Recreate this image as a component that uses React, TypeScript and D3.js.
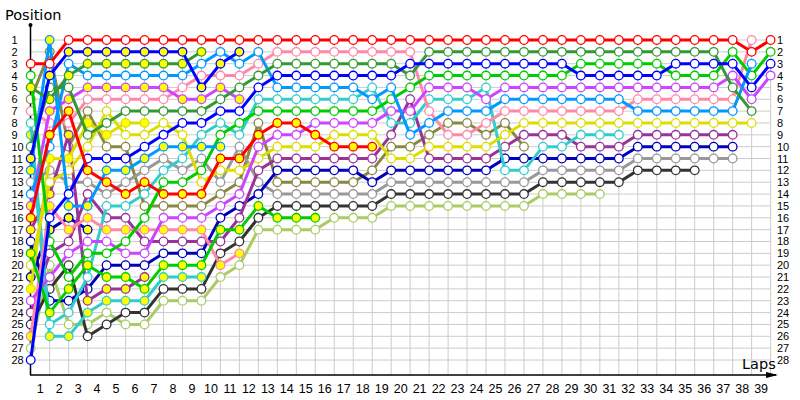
import React from "react";
import * as d3 from "d3";

const N = null;
const lapNumbers = d3.range(1, 40);
const positionLabels = d3.range(1, 29);

// positions per lap (lap 0 .. lap 39)
const redW = [3,3,1,1,1,1,1,1,1,1, 1,1,1,1,1,1,1,1,1,1, 1,1,1,1,1,1,1,1,1,1, 1,1,1,1,1,1,1,1,2,1];
const redY = [16,9,7,12,13,14,13,14,14,14, 11,11,9,8,8,9,10,10,10,N, N,N,N,N,N,N,N,N,N,N, N,N,N,N,N,N,N,N,N,N];
const blueY = [11,4,2,2,2,2,2,2,2,5, 3,2,N,N,N,N,N,N,N,N, N,N,N,N,N,N,N,N,N,N, N,N,N,N,N,N,N,N,N,N];
const dkGreenY = [5,6,4,3,3,3,3,3,3,2, N,N,N,N,N,N,N,N,N,N, N,N,N,N,N,N,N,N,N,N, N,N,N,N,N,N,N,N,N,N];
const skyW = [14,10,3,4,4,4,4,4,4,3, 2,3,2,5,5,5,5,5,6,5, 9,8,7,7,7,6,6,6,6,6, 6,6,7,7,7,7,7,7,3,N];
const skyY = [12,1,15,15,12,12,11,10,10,10, 10,N,N,N,N,N,N,N,N,N, N,N,N,N,N,N,N,N,N,N, N,N,N,N,N,N,N,N,N,N];
const pinkW = [7,8,8,6,6,6,6,6,5,4, 4,4,3,2,2,2,2,2,2,2, 2,7,9,9,8,7,7,7,7,7, 7,7,6,6,6,6,6,6,1,N];
const pinkY = [26,15,17,16,17,17,17,17,17,17, 20,19,N,N,N,N,N,N,N,N, N,N,N,N,N,N,N,N,N,N, N,N,N,N,N,N,N,N,N,N];
const dkGreenW = [10,5,5,9,8,7,7,7,7,7, 6,5,4,3,3,3,3,3,3,3, 4,2,2,2,2,2,2,2,2,2, 2,2,2,2,2,2,2,5,7,N];
const limeW = [4,18,21,19,19,18,16,13,13,12, 9,8,7,7,7,7,7,7,7,6, 5,4,4,4,4,4,4,4,4,3, 3,3,3,3,4,4,4,2,4,2];
const limeY = [19,24,22,20,21,21,22,20,20,20, 17,17,15,16,16,16,N,N,N,N, N,N,N,N,N,N,N,N,N,N, N,N,N,N,N,N,N,N,N,N];
const violetW = [23,21,19,18,18,19,19,16,16,16, 15,14,10,9,9,8,8,8,8,7, 7,5,5,5,6,5,5,5,5,5, 5,5,5,5,5,5,5,4,6,4];
const violetY = [15,7,6,5,5,5,5,5,6,6, 5,6,N,N,N,N,N,N,N,N, N,N,N,N,N,N,N,N,N,N, N,N,N,N,N,N,N,N,N,N];
const yellowW = [20,13,12,10,7,9,9,8,9,13, 12,12,11,10,10,10,9,9,9,11, 11,10,10,10,10,9,8,8,8,8, 8,8,8,8,8,8,8,8,8,N];
const yellowY = [22,11,11,8,9,8,8,N,N,N, N,N,N,N,N,N,N,N,N,N, N,N,N,N,N,N,N,N,N,N, N,N,N,N,N,N,N,N,N,N];
const oliveW = [6,2,10,7,10,10,15,15,15,15, 14,13,8,13,13,13,13,13,12,10, 10,9,8,8,9,8,10,N,N,N, N,N,N,N,N,N,N,N,N,N];
const turqW = [8,25,24,21,15,15,14,12,11,9, 8,9,6,6,6,6,6,6,5,8, 8,6,6,6,5,12,12,10,10,9, 9,9,N,N,N,N,N,N,N,N];
const turqY = [9,26,26,24,23,23,23,21,21,21, N,N,N,N,N,N,N,N,N,N, N,N,N,N,N,N,N,N,N,N, N,N,N,N,N,N,N,N,N,N];
const purpleW = [24,19,18,14,16,16,18,18,18,18, 18,16,12,11,11,11,11,11,11,9, 6,11,11,11,11,10,9,9,9,10, 10,10,9,9,9,9,9,9,N,N];
const purpleY = [17,14,9,23,22,22,21,N,N,N, N,N,N,N,N,N,N,N,N,N, N,N,N,N,N,N,N,N,N,N, N,N,N,N,N,N,N,N,N,N];
const dkBlueW = [18,23,23,22,20,20,20,19,19,19, 16,15,14,12,12,12,12,12,13,12, 12,12,12,12,12,11,11,11,11,11, 11,11,10,10,10,10,10,10,N,N];
const dkBlueY = [21,17,16,17,N,N,N,N,N,N, N,N,N,N,N,N,N,N,N,N, N,N,N,N,N,N,N,N,N,N, N,N,N,N,N,N,N,N,N,N];
const grayW = [13,12,13,13,14,13,12,11,12,11, 13,10,13,14,14,14,14,14,14,13, 13,13,13,13,13,13,13,12,12,12, 12,12,11,11,11,11,11,11,N,N];
const blackW = [25,22,20,26,25,24,24,22,22,22, 19,18,16,15,15,15,15,15,15,14, 14,14,14,14,14,14,14,13,13,13, 13,13,12,12,12,12,N,N,N,N];
const lightOliveW = [27,20,25,25,24,25,25,23,23,23, 21,20,17,17,17,17,16,16,16,15, 15,15,15,15,15,15,15,14,14,14, 14,N,N,N,N,N,N,N,N,N];
const blueW = [28,16,14,11,11,11,10,9,8,8, 7,7,5,4,4,4,4,4,4,4, 3,3,3,3,3,3,3,3,3,4, 4,4,4,4,3,3,3,3,5,3];

const seriesData = [redW, redY, blueW, blueY, dkGreenW, dkGreenY, skyW, skyY, limeW, limeY, violetW, violetY, pinkW, pinkY, yellowW, yellowY, turqW, turqY, purpleW, purpleY, dkBlueW, dkBlueY, grayW, blackW, oliveW, lightOliveW];
const seriesColors = ["#ff0000", "#ff0000", "#0000ff", "#0000ff", "#339933", "#339933", "#0099ff", "#0099ff", "#00cc00", "#00cc00", "#cc44ff", "#cc44ff", "#ff88aa", "#ff88aa", "#dddd00", "#dddd00", "#33cccc", "#33cccc", "#993399", "#993399", "#0000bb", "#0000bb", "#999999", "#333333", "#888844", "#aacc66"];
const seriesFills = ["#ffffff", "#ffff00", "#ffffff", "#ffff00", "#ffffff", "#ffff00", "#ffffff", "#ffff00", "#ffffff", "#ffff00", "#ffffff", "#ffff00", "#ffffff", "#ffff00", "#ffffff", "#ffff00", "#ffffff", "#ffff00", "#ffffff", "#ffff00", "#ffffff", "#ffff00", "#ffffff", "#ffffff", "#ffffff", "#ffffff"];

export default function App() {
  const x = d3.scaleLinear().domain([0, 39]).range([30.7, 770.6]);
  const y = d3.scaleLinear().domain([1, 28]).range([40, 360]);
  const axisY = 375;
  const gridTop = 35;
  const line = d3
    .line<number | null>()
    .defined((d) => d != null)
    .x((_, i) => x(i))
    .y((d) => y(d as number));

  const numFont = "'Liberation Sans', Arial, sans-serif";
  const titleFont = "'DejaVu Sans', Verdana, sans-serif";

  const order = seriesData.map((_, i) => i).reverse();

  return (
    <svg width={800} height={400} style={{ position: "absolute", left: 0, top: 0, background: "#fff" }}>
      {/* grid */}
      <g stroke="#cccccc" strokeWidth={1}>
        {positionLabels.map((p) => (
          <line key={"h" + p} x1={30} x2={x(39)} y1={y(p)} y2={y(p)} />
        ))}
        {lapNumbers.map((l) => (
          <line key={"v" + l} x1={x(l)} x2={x(l)} y1={gridTop} y2={axisY} />
        ))}
      </g>
      {/* axes */}
      <line x1={30.5} x2={30.5} y1={25} y2={axisY} stroke="#000" strokeWidth={1.5} />
      <circle cx={30.5} cy={25} r={2} fill="#000" />
      <line x1={30} x2={776} y1={axisY} y2={axisY} stroke="#000" strokeWidth={1.5} />
      <path d={`M${766},${axisY - 3} L${778},${axisY} L${766},${axisY + 3} Z`} fill="#000" />
      <text x={5} y={20} fontFamily={titleFont} fontSize={14.5} fill="#000">Position</text>
      <text x={742} y={369} fontFamily={titleFont} fontSize={14.5} fill="#000">Laps</text>
      {/* y labels */}
      <g fontFamily={numFont} fontSize={11} fill="#000">
        {positionLabels.map((p) => (
          <text key={"yl" + p} x={11.5} y={y(p) + 4}>{p}</text>
        ))}
        {positionLabels.map((p) => (
          <text key={"yr" + p} x={777} y={y(p) + 4}>{p}</text>
        ))}
      </g>
      {/* x labels */}
      <g fontFamily={numFont} fontSize={12.5} fill="#000" textAnchor="middle">
        {lapNumbers.map((l) => (
          <text key={"xl" + l} x={x(l - 0.5)} y={393}>{l}</text>
        ))}
      </g>
      {/* series */}
      {order.map((si) => {
        const data = seriesData[si];
        return (
          <g key={"s" + si}>
            <path d={line(data) || ""} fill="none" stroke={seriesColors[si]} strokeWidth={3} strokeLinejoin="round" />
            {data.map((v, i) =>
              v == null ? null : (
                <circle key={i} cx={x(i)} cy={y(v)} r={4.3} fill={seriesFills[si]} stroke={seriesColors[si]} strokeWidth={1.3} />
              )
            )}
          </g>
        );
      })}
    </svg>
  );
}
